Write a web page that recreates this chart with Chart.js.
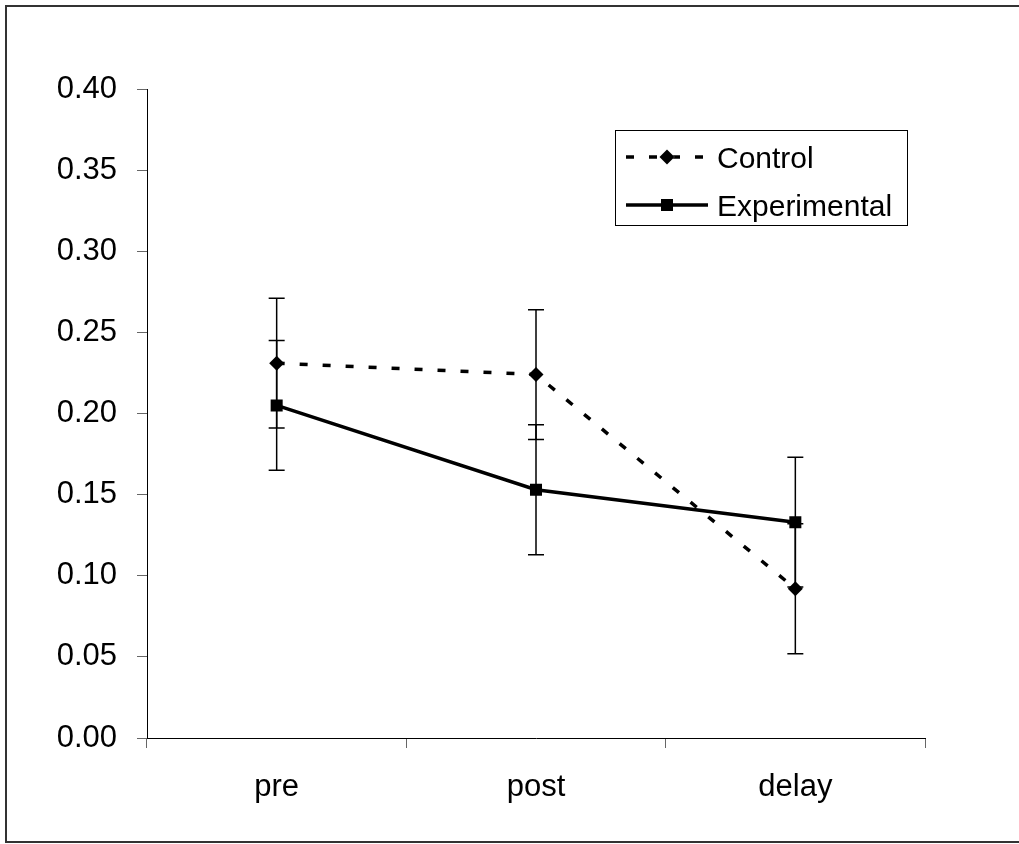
<!DOCTYPE html>
<html>
<head>
<meta charset="utf-8">
<script src="https://cdn.jsdelivr.net/npm/chart.js@4"></script>
<style>
  html, body { margin: 0; padding: 0; background: #fff; }
  #wrap { width: 1019px; height: 844px; position: relative; }
</style>
</head>
<body>
<div id="wrap"><canvas id="grafico" width="1019" height="844"></canvas></div>
<script>
// datos
const categorias = ['pre', 'post', 'delay'];
const controlMedia = [0.231, 0.224, 0.092];
const controlError = [0.04, 0.04, 0.04];
const experimentalMedia = [0.205, 0.153, 0.133];
const experimentalError = [0.04, 0.04, 0.04];
const yTicks = [0, 0.05, 0.10, 0.15, 0.20, 0.25, 0.30, 0.35, 0.40];

const fuente = '"Liberation Sans", Arial, sans-serif';

// marco exterior
const marco = {
  id: 'marco',
  beforeDraw(chart) {
    const ctx = chart.ctx;
    ctx.save();
    ctx.fillStyle = '#fff';
    ctx.fillRect(0, 0, chart.width, chart.height);
    ctx.strokeStyle = '#333';
    ctx.lineWidth = 2;
    ctx.strokeRect(6, 6, chart.width, chart.height - 8);
    ctx.restore();
  }
};

// barras de error con las escalas del grafico
const barrasError = {
  id: 'barrasError',
  afterDatasetsDraw(chart) {
    const ctx = chart.ctx;
    const y = chart.scales.y;
    ctx.save();
    ctx.strokeStyle = '#000';
    ctx.lineWidth = 1.5;
    chart.data.datasets.forEach((ds, i) => {
      const meta = chart.getDatasetMeta(i);
      meta.data.forEach((pt, j) => {
        const v = ds.data[j], e = ds.errores[j];
        const top = y.getPixelForValue(v + e);
        const bot = y.getPixelForValue(v - e);
        ctx.beginPath();
        ctx.moveTo(pt.x, top); ctx.lineTo(pt.x, bot);
        ctx.moveTo(pt.x - 8, top); ctx.lineTo(pt.x + 8, top);
        ctx.moveTo(pt.x - 8, bot); ctx.lineTo(pt.x + 8, bot);
        ctx.stroke();
      });
    });
    ctx.restore();
  }
};

// leyenda con recuadro dentro del area
const leyenda = {
  id: 'leyenda',
  afterDraw(chart) {
    const ctx = chart.ctx;
    const x0 = 615, y0 = 130, w = 292, h = 95;
    ctx.save();
    ctx.fillStyle = '#fff';
    ctx.fillRect(x0, y0, w, h);
    ctx.strokeStyle = '#000';
    ctx.lineWidth = 1;
    ctx.strokeRect(x0 + 0.5, y0 + 0.5, w, h);
    chart.data.datasets.forEach((ds, i) => {
      const cy = y0 + 27 + i * 48;
      ctx.strokeStyle = ds.borderColor;
      ctx.lineWidth = ds.borderWidth;
      ctx.setLineDash(ds.borderDash || []);
      ctx.beginPath();
      ctx.moveTo(x0 + 11, cy); ctx.lineTo(x0 + 93, cy);
      ctx.stroke();
      ctx.setLineDash([]);
      Chart.helpers.drawPoint(ctx, {
        pointStyle: ds.pointStyle, radius: ds.pointRadius, borderWidth: 0
      }, x0 + 52, cy);
      ctx.fillStyle = '#000';
      ctx.fill();
      ctx.font = '30px ' + fuente;
      ctx.textBaseline = 'alphabetic';
      ctx.fillText(ds.label, x0 + 102, cy + 11);
    });
    ctx.restore();
  }
};

const ctx = document.getElementById('grafico').getContext('2d');
new Chart(ctx, {
  type: 'line',
  data: {
    labels: categorias,
    datasets: [
      {
        label: 'Control',
        data: controlMedia,
        errores: controlError,
        borderColor: '#000',
        backgroundColor: '#000',
        borderWidth: 3.5,
        borderDash: [8, 15],
        pointStyle: 'rectRot',
        pointRadius: 7.5,
        pointBorderWidth: 0,
        tension: 0,
      },
      {
        label: 'Experimental',
        data: experimentalMedia,
        errores: experimentalError,
        borderColor: '#000',
        backgroundColor: '#000',
        borderWidth: 3.5,
        pointStyle: 'rect',
        pointRadius: 8.5,
        pointBorderWidth: 0,
        tension: 0,
      },
    ],
  },
  options: {
    responsive: false,
    animation: false,
    layout: { padding: { left: 0, right: 94, top: 89, bottom: 0 } },
    plugins: { legend: { display: false }, tooltip: { enabled: false } },
    scales: {
      x: {
        offset: true,
        grid: { offset: true, drawOnChartArea: false, tickLength: 10, color: '#666' },
        border: { color: '#000', width: 1 },
        ticks: { color: '#000', font: { family: fuente, size: 31 }, padding: 21 },
        afterFit(s) { s.height = 106; },
      },
      y: {
        min: 0,
        max: 0.4,
        afterBuildTicks(s) { s.ticks = yTicks.map(v => ({ value: v })); },
        grid: { drawOnChartArea: false, tickLength: 10, color: '#666' },
        border: { color: '#000', width: 1 },
        ticks: { color: '#000', font: { family: fuente, size: 31 }, padding: 20,
          callback: v => v.toFixed(2) },
        afterFit(s) { s.width = 147; },
      },
    },
  },
  plugins: [marco, barrasError, leyenda],
});
</script>
</body>
</html>
